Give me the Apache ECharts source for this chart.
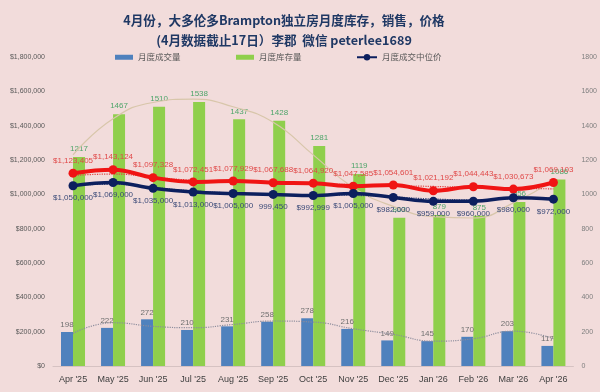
<!DOCTYPE html>
<html><head><meta charset="utf-8">
<script src="https://cdn.jsdelivr.net/npm/echarts@6/dist/echarts.min.js"></script>
<style>html,body{margin:0;padding:0;background:#f2dcdb}#c{width:600px;height:392px}</style>
</head><body><div id="c"></div>
<script>
const months = ["Apr '25","May '25","Jun '25","Jul '25","Aug '25","Sep '25","Oct '25","Nov '25","Dec '25","Jan '26","Feb '26","Mar '26","Apr '26"];
const sales = [198,222,272,210,231,258,278,216,149,145,170,203,117];
const inventory = [1217,1467,1510,1538,1437,1428,1281,1119,863,879,875,956,1086];
const medianPrice = [1050000,1069000,1035000,1013000,1005000,999450,992999,1005000,982000,959000,960000,980000,972000];
const averagePrice = [1123405,1143124,1097328,1072451,1077929,1067688,1064920,1047585,1054601,1021192,1044443,1030673,1069103];
// trend curves
const salesTrend = [190,252,231,223,242,262,256,217,184,145,159,203,159];
const inventoryTrend = [1230,1440,1535,1555,1510,1420,1230,1040,930,870,862,950,1080];
const averageTrend = [1110000,1118000,1100000,1082000,1074000,1068000,1062000,1057000,1051000,1046000,1040000,1035000,1032000];
const medianTrend = [1055000,1058000,1040000,1020000,1008000,1000000,997000,994000,985000,973000,968000,975000,978000];
const medianNoDollar = ["Sep '25"];
const seriesNames = ["月度成交量","月度库存量","月度成交中位价","月度成交均价"];

const fmt = v => v.toString().replace(/\B(?=(\d{3})+(?!\d))/g, ",");
const chart = echarts.init(document.getElementById('c'));
const legendBase = {top:48, itemHeight:5, itemWidth:18, textStyle:{fontSize:8.5, color:'#595959', fontFamily:'Noto Sans CJK SC'}, itemGap:4};
chart.setOption({
  backgroundColor:'#f2dcdb',
  animation:false,
  title:{
    text:'4月份，大多伦多Brampton独立房月度库存，销售，价格\n(4月数据截止17日）李郡  微信 peterlee1689',
    left:279, top:5, textAlign:'center',
    textStyle:{fontSize:12.6, fontWeight:'bold', color:'#1f3864', lineHeight:20, fontFamily:'Noto Sans CJK SC'}
  },
  legend:[
    Object.assign({}, legendBase, {left:110, data:[{name:seriesNames[0], icon:'rect'}]}),
    Object.assign({}, legendBase, {left:231, data:[{name:seriesNames[1], icon:'rect'}]}),
    Object.assign({}, legendBase, {left:351, itemWidth:20, itemHeight:8, data:[{name:seriesNames[2]}]})
  ],
  grid:{left:53, right:25, top:57, bottom:26},
  xAxis:{
    type:'category', data:months,
    axisTick:{show:false},
    axisLine:{lineStyle:{color:'#d6c2c2'}},
    axisLabel:{interval:0, fontSize:9, color:'#404040', margin:9, fontFamily:'Liberation Sans'}
  },
  yAxis:[
    {type:'value', min:0, max:1800000, interval:200000, splitLine:{show:false},
     axisLabel:{fontSize:7, color:'#595959', formatter:v=>'$'+fmt(v), margin:8, fontFamily:'Liberation Sans'}},
    {type:'value', min:0, max:1800, interval:200, splitLine:{show:false},
     axisLabel:{fontSize:7, color:'#7f7f7f', margin:8, formatter:v=>String(v), fontFamily:'Liberation Sans'}}
  ],
  series:[
    {name:seriesNames[0], type:'bar', yAxisIndex:1, data:sales, barWidth:12, barGap:'0%',
     itemStyle:{color:'#4f81bd'},
     label:{show:true, position:'top', fontSize:8, color:'#6f6f6f', distance:3, fontFamily:'Liberation Sans'}},
    {name:seriesNames[1], type:'bar', yAxisIndex:1, data:inventory, barWidth:12, barGap:'0%',
     itemStyle:{color:'#8fcf4c'},
     label:{show:true, position:'top', fontSize:8, color:'#4ea56a', distance:4, fontFamily:'Liberation Sans'}},
    {name:'库存趋势', type:'line', yAxisIndex:1, data:inventoryTrend, smooth:0.5, symbol:'none', silent:true,
     lineStyle:{color:'#d8c6aa', width:1.2}, z:3},
    {name:'成交趋势', type:'line', yAxisIndex:1, data:salesTrend, smooth:0.5, symbol:'none', silent:true,
     lineStyle:{color:'#8c8c9c', width:1.2, type:'dotted'}, z:3},
    {name:'均价趋势', type:'line', yAxisIndex:0, data:averageTrend, smooth:0.5, symbol:'none', silent:true,
     lineStyle:{color:'#e04040', width:1.2, type:'dotted'}, z:4},
    {name:'中位价趋势', type:'line', yAxisIndex:0, data:medianTrend, smooth:0.5, symbol:'none', silent:true,
     lineStyle:{color:'#3a4a80', width:1.2, type:'dotted'}, z:4},
    {name:seriesNames[3], type:'line', yAxisIndex:0, data:averagePrice, smooth:0.4,
     symbol:'circle', symbolSize:9, itemStyle:{color:'#f01414'}, lineStyle:{color:'#f01414', width:4}, z:5,
     label:{show:true, position:'top', distance:4, fontSize:8, color:'#e04848', formatter:p=>'$'+fmt(p.value), fontFamily:'Liberation Sans'}},
    {name:seriesNames[2], type:'line', yAxisIndex:0, data:medianPrice, smooth:0.4,
     symbol:'circle', symbolSize:9, itemStyle:{color:'#0c1f5e'}, lineStyle:{color:'#0c1f5e', width:3.5}, z:6,
     label:{show:true, position:'bottom', distance:4, fontSize:8, color:'#3b4a78', fontFamily:'Liberation Sans',
       formatter:p=>(medianNoDollar.includes(p.name)?'':'$')+fmt(p.value)}}
  ]
});
</script></body></html>
